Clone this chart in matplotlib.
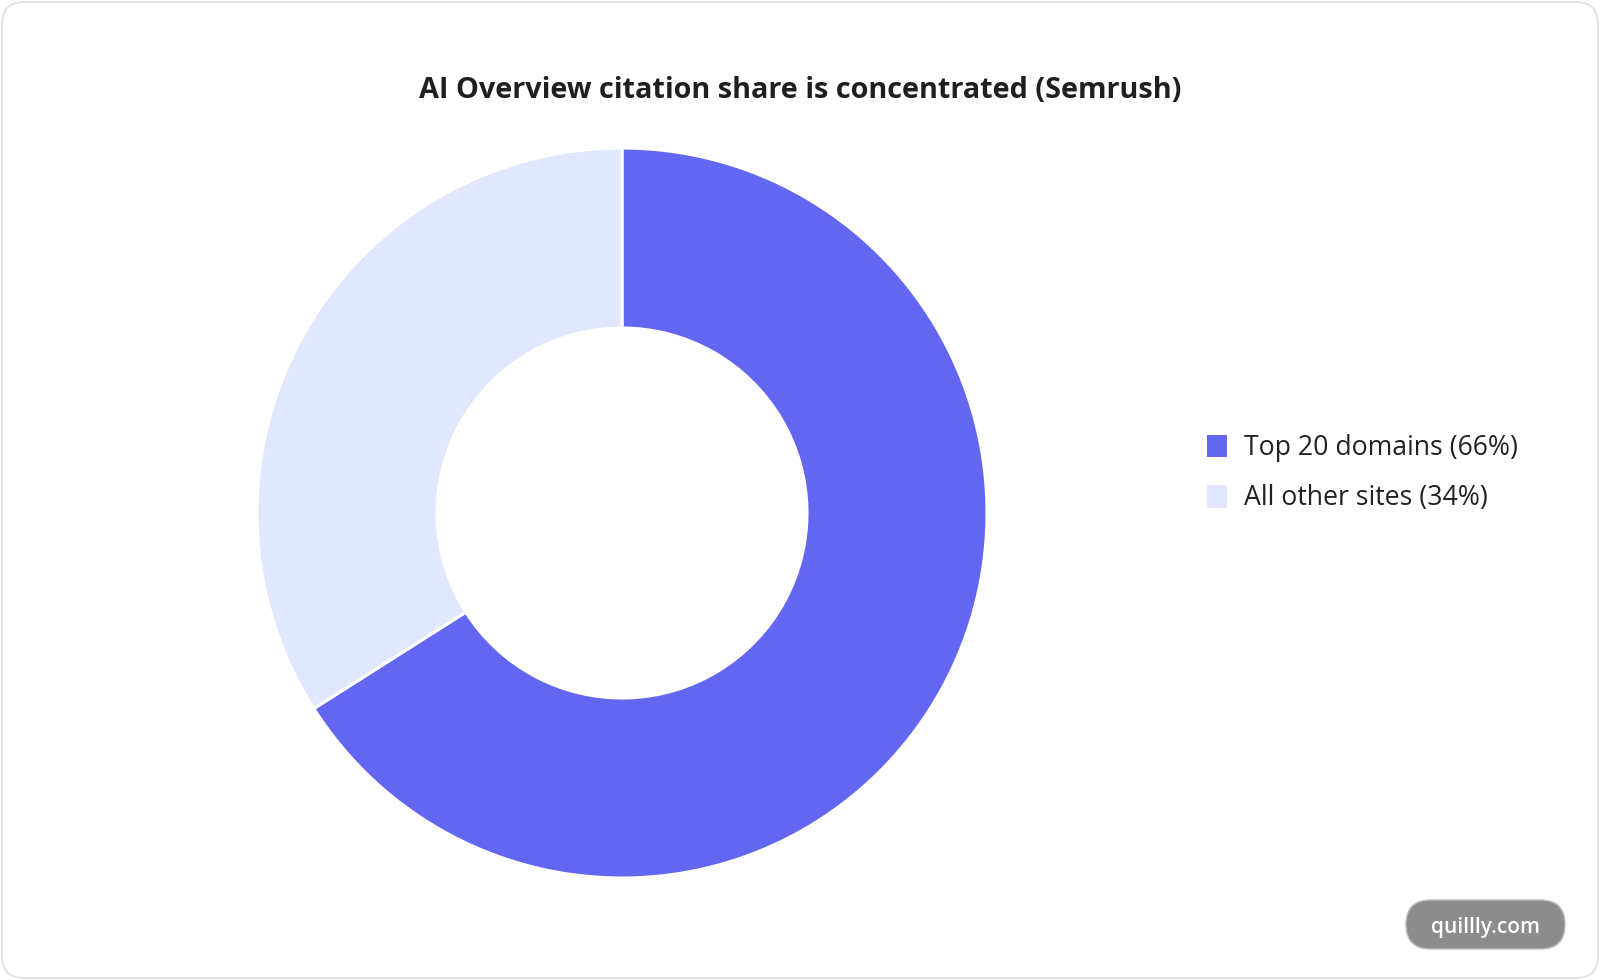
import matplotlib.pyplot as plt
from matplotlib.patches import FancyBboxPatch

# Data
labels = ['Top 20 domains', 'All other sites']
shares = [66, 34]
colors = ['#6366F1', '#E0E7FF']

plt.rcParams['font.family'] = ['Open Sans', 'DejaVu Sans']

W, H = 1600, 980
fig = plt.figure(figsize=(W / 100, H / 100), dpi=100)
ax = fig.add_axes([0, 0, 1, 1])

# Donut (pixel coordinates, y up)
cx, cy = 622, 467
R, r = 365, 185
wedges, _ = ax.pie(shares, colors=colors, startangle=90, counterclock=False,
                   radius=R, center=(cx, cy),
                   wedgeprops=dict(width=R - r, edgecolor='white', linewidth=2.2))

ax.set_xlim(0, W)
ax.set_ylim(0, H)
ax.set_aspect('equal')
ax.axis('off')

# Card border
card = FancyBboxPatch((2, 2), W - 4, H - 4, boxstyle='round,pad=0,rounding_size=22',
                      facecolor='none', edgecolor='#dedede', linewidth=1.2)
ax.add_patch(card)

# Title
fig.text(0.5, 0.908, 'AI Overview citation share is concentrated (Semrush)',
         ha='center', va='center', fontsize=20.8, fontweight='bold', color='#1f1f1f')

# Legend
leg_labels = [f'{l} ({v}%)' for l, v in zip(labels, shares)]
fig.legend(wedges, leg_labels, loc='center left', bbox_to_anchor=(0.7532, 0.518),
           frameon=False, fontsize=19.2, handlelength=0.85, handleheight=1.1,
           handletextpad=0.6, labelspacing=0.8, borderpad=0, borderaxespad=0,
           labelcolor='#222222')

# Watermark pill
pill = FancyBboxPatch((1406, 31), 159, 49, boxstyle='round,pad=0,rounding_size=24.5',
                      facecolor='#8c8c8c', edgecolor='#bdbdbd', linewidth=1)
ax.add_patch(pill)
ax.text(1486, 53, 'quillly.com', ha='center', va='center', fontsize=15,
        fontweight='semibold', color='white')

fig.savefig('out.png', dpi=100, facecolor='white')
